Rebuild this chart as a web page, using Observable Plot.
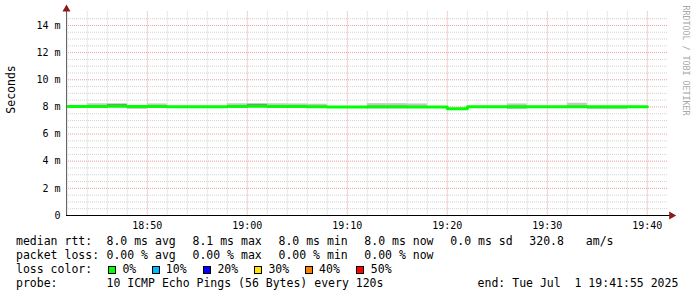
<!DOCTYPE html>
<html><head><meta charset="utf-8">
<script src="https://cdn.jsdelivr.net/npm/d3@7"></script>
<script src="https://cdn.jsdelivr.net/npm/@observablehq/plot@0.6"></script>
<style>
html,body{margin:0;padding:0;background:#fff;}
#chart svg{display:block;}
#legend{position:relative;width:697px;height:65px;font-family:"DejaVu Sans Mono",monospace;font-size:11.5px;line-height:14px;color:#000;}
#legend span{position:absolute;white-space:pre;}
#legend .box{width:6px;height:6px;border:1px solid #000;}
</style></head><body>
<div id="chart"></div>
<div id="legend"></div>
<script>
// ---- data ----
const intervalStarts = ["18:40","18:42","18:44","18:46","18:48","18:50","18:52","18:54","18:56","18:58",
  "19:00","19:02","19:04","19:06","19:08","19:10","19:12","19:14","19:16","19:18",
  "19:20","19:22","19:24","19:26","19:28","19:30","19:32","19:34","19:36","19:38"];
const medianMs = [8.03,8.03,8.03,8.04,8.03,8.03,8.02,8.02,8.02,8.03,
  8.04,8.03,8.03,8.02,8.00,8.00,8.01,8.01,7.99,7.99,
  7.87,8.02,8.02,8.02,8.02,8.02,8.02,8.02,8.02,8.02];
const smokeHiMs = [null,null,8.23,8.22,null,8.22,null,null,null,8.23,
  8.23,8.23,8.22,8.20,null,null,8.24,8.24,8.22,null,
  null,null,null,8.22,null,null,8.27,null,null,null];
const smokeLoMs = [null,null,null,null,7.82,null,null,null,null,null,
  null,null,null,null,null,null,7.84,7.84,null,null,
  null,null,null,7.80,null,null,null,7.80,7.80,null];
const darkSmokeHiMs = [null,null,null,8.19,null,null,null,null,null,null,
  8.19,null,null,null,null,null,null,null,null,null,
  null,null,null,null,null,null,null,null,null,null];
const yTicks = [0,2,4,6,8,10,12,14];
const xTickLabels = ["18:50","19:00","19:10","19:20","19:30","19:40"];
const lossLabels = ["0%","10%","20%","30%","40%","50%"];
const lossColors = ["#00ff00","#00b8ff","#0000ff","#ffe600","#ff8000","#ff0000"];
const statsRow1 = ["median rtt:","8.0 ms avg","8.1 ms max","8.0 ms min","8.0 ms now","0.0 ms sd","320.8","am/s"];
const statsRow2 = ["packet loss:","0.00 % avg","0.00 % max","0.00 % min","0.00 % now"];
const lossTitle = "loss color:";
const probeRow = ["probe:","10 ICMP Echo Pings (56 Bytes) every 120s","end: Tue Jul  1 19:41:55 2025"];
const yTitle = "Seconds";
const watermark = "RRDTOOL / TOBI OETIKER";

// ---- build ----
const parseT = s => { const [h,m] = s.split(":").map(Number); return new Date(2025,6,1,h,m,0); };
const tStart = new Date(2025,6,1,18,41,55);
const tEnd = new Date(2025,6,1,19,41,55);
const gridEnd = new Date(2025,6,1,19,42,5);
const axisEnd = new Date(2025,6,1,19,42,20);
const arrowT = new Date(2025,6,1,19,42,25);

const rows = intervalStarts.map((s,i) => {
  const t0 = parseT(s);
  return {t0, t1: new Date(+t0 + 120000), median: medianMs[i],
    hi: smokeHiMs[i] ?? medianMs[i], lo: smokeLoMs[i] ?? medianMs[i], dark: darkSmokeHiMs[i]};
});
const last = rows[rows.length-1];
const linePts = rows.map(r => ({t: r.t0, v: r.median})).concat([{t: last.t1, v: last.median}]);

const majorX = xTickLabels.map(parseT);
const minorX = d3.timeMinute.every(2).range(tStart, tEnd).filter(d => d.getMinutes() % 10 !== 0);
const majorY = yTicks.filter(v => v > 0);
const minorY = d3.range(0.5, 15, 0.5).filter(v => v % 2 !== 0);

const chart = Plot.plot({
  width: 697, height: 232,
  marginLeft: 66, marginRight: 31, marginTop: 11.4, marginBottom: 17,
  style: {fontFamily: "'DejaVu Sans Mono', monospace", fontSize: "10px", color: "#000", background: "#fff", overflow: "visible"},
  x: {type: "time", domain: [tStart, tEnd], ticks: majorX, tickFormat: d3.timeFormat("%H:%M"), tickSize: 0, tickPadding: 6, label: null},
  y: {domain: [0, 15], ticks: yTicks, tickFormat: v => v === 0 ? "0" : `${v} m`, tickSize: 0, tickPadding: 6, label: null},
  marks: [
    Plot.ruleY(minorY, {x1: () => tStart, x2: () => gridEnd, stroke: "#d2d2d2", strokeDasharray: "1,1"}),
    Plot.ruleX(minorX, {stroke: "#d2d2d2", strokeDasharray: "1,1"}),
    Plot.ruleY(majorY, {x1: () => tStart, x2: () => gridEnd, stroke: "#eaa0a0", strokeDasharray: "1,1"}),
    Plot.ruleX(majorX, {stroke: "#eaa0a0", strokeDasharray: "1,1"}),
    Plot.rect(rows.filter(r => r.hi > r.lo), {x1: "t0", x2: "t1", y1: "lo", y2: "hi", fill: "#c6c6c6", clip: true}),
    Plot.rect(rows.filter(r => r.dark != null), {x1: "t0", x2: "t1", y1: "median", y2: "dark", fill: "#8a8a8a", clip: true}),
    Plot.line(linePts, {x: "t", y: "v", curve: "step-after", stroke: lossColors[0], strokeWidth: 3, clip: true}),
    Plot.ruleX([tStart], {y1: 0, y2: 15.1, stroke: "#666"}),
    Plot.ruleY([0], {x1: () => tStart, x2: () => axisEnd, stroke: "#000"}),
    Plot.dot([{t: tStart, v: 15.2}], {x: "t", y: "v", symbol: "triangle", r: 3, fill: "#8b1a1a", stroke: null}),
    Plot.dot([{t: arrowT, v: 0}], {x: "t", y: "v", symbol: "triangle", r: 3, rotate: 90, fill: "#8b1a1a", stroke: null}),
    Plot.text([yTitle], {text: d => d, frameAnchor: "left", dx: -55, rotate: -90, fontSize: 11.5, fill: "#000"}),
    Plot.text([watermark], {text: d => d, frameAnchor: "top-right", dx: 22, dy: -6.4, rotate: 90, textAnchor: "start", fontSize: 8.3, fill: "#a8a8a8"})
  ]
});
document.getElementById("chart").appendChild(chart);

// ---- legend below the SVG ----
const legend = document.getElementById("legend");
function addText(txt, left, top) {
  const s = document.createElement("span");
  s.textContent = txt; s.style.left = left + "px"; s.style.top = top + "px";
  legend.appendChild(s);
}
const row1X = [16, 106.5, 192.5, 278.5, 364.3, 450.3, 529.3, 585.8];
statsRow1.forEach((t, i) => addText(t, row1X[i], 2));
const row2X = [16, 106.5, 192.5, 278.5, 364.3];
statsRow2.forEach((t, i) => addText(t, row2X[i], 16));
addText(lossTitle, 16, 30);
const boxX = [108, 151.5, 203, 254, 305, 356];
const labelX = [122.4, 165.8, 217.4, 268.4, 319.1, 370.8];
lossLabels.forEach((t, i) => {
  const b = document.createElement("span");
  b.className = "box"; b.style.left = boxX[i] + "px"; b.style.top = "34px"; b.style.background = lossColors[i];
  legend.appendChild(b);
  addText(t, labelX[i], 30);
});
const row4X = [16, 106.5, 477.6];
probeRow.forEach((t, i) => addText(t, row4X[i], 44));
</script>
</body></html>
